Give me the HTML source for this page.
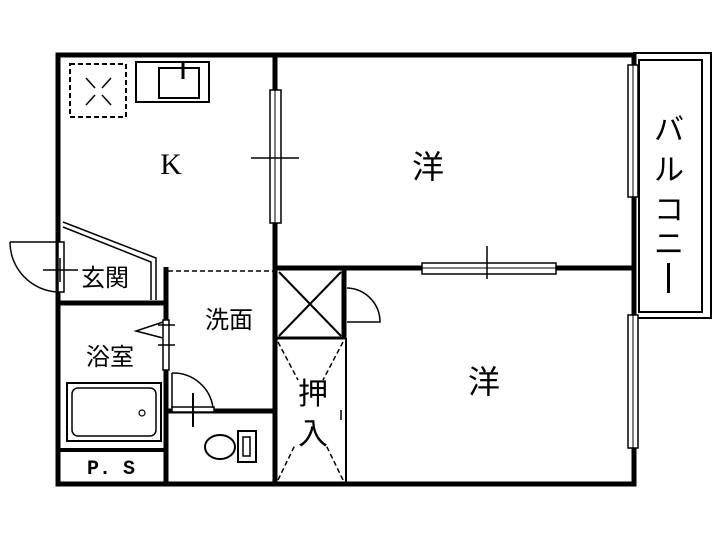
<!DOCTYPE html>
<html><head><meta charset="utf-8"><style>
html,body{margin:0;padding:0;background:#fff}
svg{display:block}
text{font-family:"Liberation Sans","Noto Sans CJK JP",sans-serif;fill:#000}
</style></head><body>
<svg width="720" height="540" viewBox="0 0 720 540" xmlns="http://www.w3.org/2000/svg">
<rect width="720" height="540" fill="#fff"/>
<g stroke="#000" fill="none">
<rect x="634" y="53" width="77" height="265" stroke-width="2"/>
<rect x="639" y="60" width="63" height="252" stroke-width="2"/>
<path d="M58 55 H634 V484 H58 Z" stroke-width="5"/>
<line x1="275" y1="55" x2="275" y2="484" stroke-width="5"/>
<line x1="275" y1="268" x2="634" y2="268" stroke-width="5"/>
<line x1="344" y1="268" x2="344" y2="338" stroke-width="5"/>
<line x1="275" y1="338" x2="346" y2="338" stroke-width="3"/>
<line x1="346" y1="338" x2="346" y2="484" stroke-width="2"/>
<line x1="279" y1="272" x2="341" y2="336" stroke-width="2"/>
<line x1="341" y1="272" x2="279" y2="336" stroke-width="2"/>
<path d="M278 342 L298 380 M343 342 L323 380 M278 480 L295 445 M343 480 L326 445" stroke-width="1.5" stroke-dasharray="5,3"/>
<line x1="341" y1="410" x2="341" y2="420" stroke-width="1.5"/>
<path d="M347 288 A34 34 0 0 1 380 322 H347" stroke-width="1.5"/>
<line x1="166" y1="267" x2="166" y2="484" stroke-width="5"/>
<line x1="58" y1="303" x2="166" y2="303" stroke-width="5"/>
<line x1="58" y1="450" x2="166" y2="450" stroke-width="4"/>
<line x1="166" y1="411" x2="275" y2="411" stroke-width="5"/>
<line x1="168" y1="271" x2="273" y2="271" stroke-width="1.5" stroke-dasharray="5,3"/>
<path d="M63 222 L156 258 V300" stroke-width="1.5"/>
<path d="M63 227 L151 262 V300" stroke-width="1.5"/>
<rect x="58" y="242" width="6" height="50" fill="#fff" stroke-width="1.5"/>
<path d="M10 242 H58 M10 242 A50 50 0 0 0 58 292" stroke-width="1.5"/>
<line x1="43" y1="270" x2="78" y2="270" stroke-width="1.5"/>
<line x1="60" y1="258" x2="60" y2="282" stroke-width="1.5"/>
<rect x="163" y="320" width="6" height="50" fill="#fff" stroke-width="1.5"/>
<path d="M163 322 L136 331 L163 338" stroke-width="1.5"/>
<line x1="158" y1="325" x2="175" y2="325" stroke-width="1.5"/>
<line x1="158" y1="345" x2="175" y2="345" stroke-width="1.5"/>
<rect x="172" y="407" width="42" height="5" fill="#fff" stroke-width="1.5"/>
<path d="M172 373 A40 40 0 0 1 213 408 M172 373 V408" stroke-width="1.5"/>
<line x1="193" y1="393" x2="193" y2="427" stroke-width="2"/>
<rect x="67" y="383" width="94" height="58" stroke-width="2"/>
<rect x="72" y="388" width="84" height="48" rx="6" stroke-width="1.5"/>
<circle cx="142" cy="413" r="3" stroke-width="1.2"/>
<ellipse cx="220" cy="447" rx="15" ry="12" stroke-width="2"/>
<rect x="238" y="431" width="18" height="31" stroke-width="2"/>
<rect x="243" y="437" width="7" height="19" stroke-width="1.5"/>
<rect x="70" y="64" width="56" height="53" stroke-width="2" stroke-dasharray="5,3"/>
<path d="M86 78 L95 88 M111 78 L102 88 M86 105 L95 95 M111 105 L102 95" stroke-width="1.5"/>
<rect x="136" y="62" width="73" height="40" stroke-width="2"/>
<rect x="159" y="68" width="40" height="30" stroke-width="2"/>
<line x1="183" y1="62" x2="183" y2="79" stroke-width="3"/>
<rect x="270" y="90" width="11" height="133" fill="#fff" stroke-width="1.5"/>
<line x1="275" y1="90" x2="275" y2="223" stroke-width="1"/>
<line x1="251" y1="158" x2="299" y2="158" stroke-width="1.5"/>
<rect x="422" y="263" width="134" height="11" fill="#fff" stroke-width="1.5"/>
<line x1="422" y1="268" x2="556" y2="268" stroke-width="1"/>
<line x1="487" y1="246" x2="487" y2="279" stroke-width="1.5"/>
<rect x="628" y="65" width="10" height="132" fill="#fff" stroke-width="1.5"/>
<line x1="633" y1="65" x2="633" y2="197" stroke-width="1"/>
<rect x="628" y="315" width="10" height="133" fill="#fff" stroke-width="1.5"/>
<line x1="633" y1="315" x2="633" y2="448" stroke-width="1"/>
</g>
<text x="171" y="174" font-size="30" text-anchor="middle" style="font-family:'Liberation Serif',serif">K</text>
<text x="428" y="178" font-size="32" text-anchor="middle">洋</text>
<text x="484" y="393" font-size="32" text-anchor="middle">洋</text>
<text x="229" y="328" font-size="24" text-anchor="middle">洗面</text>
<text x="110" y="365" font-size="24" text-anchor="middle">浴室</text>
<text x="105" y="286" font-size="24" text-anchor="middle">玄関</text>
<text x="313" y="404" font-size="30" text-anchor="middle">押</text>
<text x="313" y="444" font-size="30" text-anchor="middle">入</text>
<text x="669" y="140" font-size="30" text-anchor="middle">バ</text>
<text x="669" y="180" font-size="30" text-anchor="middle">ル</text>
<text x="669" y="220" font-size="30" text-anchor="middle">コ</text>
<text x="669" y="254" font-size="30" text-anchor="middle">ニ</text>
<rect x="667" y="263" width="3" height="30" fill="#000"/>
<text x="111" y="474" font-size="20" text-anchor="middle" style="font-family:'Liberation Mono',monospace;font-weight:bold">P. S</text>
</svg>
</body></html>
